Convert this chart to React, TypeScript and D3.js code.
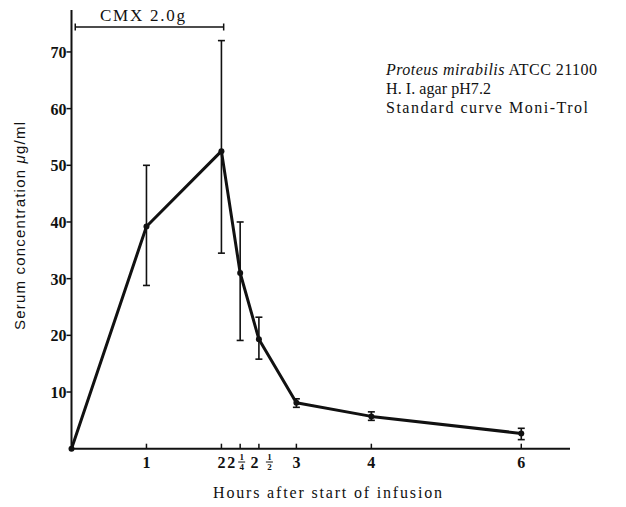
import React from "react";
import * as d3 from "d3";

// Serum concentration after a 2 h infusion of CMX 2.0 g
const hours = [0, 1, 2, 2.25, 2.5, 3, 4, 6];
const meanConc = [0, 39.2, 52.5, 31, 19.3, 8.1, 5.7, 2.7];
const errLow = [null, 28.8, 34.5, 19.1, 15.8, 7.3, 5.0, 1.6];
const errHigh = [null, 50, 72, 40, 23.2, 8.8, 6.5, 3.6];

const yTicks = [10, 20, 30, 40, 50, 60, 70];
const xTicks = [1, 2, 2.25, 2.5, 3, 4, 6];
const xTickLabels = [
  { whole: "1", frac: null, wholeAt: 1, fracAt: null },
  { whole: "2", frac: null, wholeAt: 2, fracAt: null },
  { whole: "2", frac: ["1", "4"], wholeAt: 2.13, fracAt: 2.27 },
  { whole: "2", frac: ["1", "2"], wholeAt: 2.44, fracAt: 2.64 },
  { whole: "3", frac: null, wholeAt: 3, fracAt: null },
  { whole: "4", frac: null, wholeAt: 4, fracAt: null },
  { whole: "6", frac: null, wholeAt: 6, fracAt: null },
];
const infusionSpan = [0.05, 2.03];
const infusionLabel = "CMX 2.0g";

const W = 626;
const H = 507;

export default function App() {
  const x = d3.scaleLinear().domain([0, 6.65]).range([71.5, 570]);
  const y = d3.scaleLinear().domain([0, 77.4]).range([448.7, 10]);

  const pts = hours.map((h, i) => [h, meanConc[i]] as [number, number]);
  const line = d3
    .line<[number, number]>()
    .x((d) => x(d[0]))
    .y((d) => y(d[1]));

  const serif = "'Liberation Serif', 'DejaVu Serif', serif";
  const sans = "'Liberation Sans', 'DejaVu Sans', sans-serif";
  const ink = "#111";

  const cmxY = 27;
  const cx0 = x(infusionSpan[0]);
  const cx1 = x(infusionSpan[1]);

  return (
    <svg
      width={W}
      height={H}
      viewBox={`0 0 ${W} ${H}`}
      style={{ position: "absolute", left: 0, top: 0, background: "#fff" }}
    >
      <rect width={W} height={H} fill="#fff" />

      {/* axes */}
      <line x1={x(0)} x2={x(0)} y1={y(0) + 1} y2={10} stroke={ink} strokeWidth={2} />
      <line x1={x(0) - 1} x2={570} y1={y(0)} y2={y(0)} stroke={ink} strokeWidth={2} />

      {yTicks.map((t) => (
        <g key={"y" + t}>
          <line x1={x(0) - 5} x2={x(0)} y1={y(t)} y2={y(t)} stroke={ink} strokeWidth={1.5} />
          <text
            x={x(0) - 5}
            y={y(t) + 6}
            textAnchor="end"
            fontFamily={serif}
            fontWeight="bold"
            fontSize={16}
            fill={ink}
          >
            {t}
          </text>
        </g>
      ))}

      {xTicks.map((t) => (
        <line
          key={"x" + t}
          x1={x(t)}
          x2={x(t)}
          y1={y(0)}
          y2={y(0) - 5}
          stroke={ink}
          strokeWidth={1.5}
        />
      ))}

      {xTickLabels.map((l, i) => (
        <g key={"xl" + i} fontFamily={serif} fontWeight="bold" fill={ink}>
          <text x={x(l.wholeAt)} y={468} textAnchor="middle" fontSize={16}>
            {l.whole}
          </text>
          {l.frac && l.fracAt !== null && (
            <g>
              <text x={x(l.fracAt)} y={460} textAnchor="middle" fontSize={9}>
                {l.frac[0]}
              </text>
              <line
                x1={x(l.fracAt) - 3.5}
                x2={x(l.fracAt) + 3.5}
                y1={462}
                y2={462}
                stroke={ink}
                strokeWidth={1}
              />
              <text x={x(l.fracAt)} y={470} textAnchor="middle" fontSize={9}>
                {l.frac[1]}
              </text>
            </g>
          )}
        </g>
      ))}

      {/* infusion period */}
      <line x1={cx0} x2={cx1} y1={cmxY} y2={cmxY} stroke={ink} strokeWidth={1.5} />
      <line x1={cx0} x2={cx0} y1={cmxY - 3.5} y2={cmxY + 3.5} stroke={ink} strokeWidth={1.5} />
      <line x1={cx1} x2={cx1} y1={cmxY - 3.5} y2={cmxY + 3.5} stroke={ink} strokeWidth={1.5} />
      <text
        x={100}
        y={21}
        fontFamily={serif}
        fontSize={17}
        textLength={85}
        lengthAdjust="spacing"
        fill={ink}
      >
        {infusionLabel}
      </text>

      {/* error bars */}
      {hours.map((h, i) =>
        errLow[i] === null ? null : (
          <g key={"e" + i} stroke={ink} strokeWidth={1.6}>
            <line x1={x(h)} x2={x(h)} y1={y(errLow[i] as number)} y2={y(errHigh[i] as number)} />
            <line
              x1={x(h) - 3.5}
              x2={x(h) + 3.5}
              y1={y(errLow[i] as number)}
              y2={y(errLow[i] as number)}
            />
            <line
              x1={x(h) - 3.5}
              x2={x(h) + 3.5}
              y1={y(errHigh[i] as number)}
              y2={y(errHigh[i] as number)}
            />
          </g>
        )
      )}

      {/* mean curve */}
      <path
        d={line(pts) || ""}
        fill="none"
        stroke={ink}
        strokeWidth={3}
        strokeLinejoin="round"
      />
      {pts.map((p, i) => (
        <circle key={"p" + i} cx={x(p[0])} cy={y(p[1])} r={3} fill={ink} />
      ))}

      {/* annotation */}
      <g fontFamily={serif} fontSize={16} fill={ink}>
        <text x={386} y={75} textLength={211} lengthAdjust="spacing">
          <tspan fontStyle="italic">Proteus mirabilis</tspan> ATCC 21100
        </text>
        <text x={386} y={94} textLength={105} lengthAdjust="spacing">
          H. I. agar pH7.2
        </text>
        <text x={386} y={113} textLength={202} lengthAdjust="spacing">
          Standard curve Moni-Trol
        </text>
      </g>

      {/* axis titles */}
      <text
        x={213}
        y={498}
        fontFamily={serif}
        fontSize={16}
        textLength={229}
        lengthAdjust="spacing"
        fill={ink}
      >
        Hours after start of infusion
      </text>
      <text
        transform="translate(25,330) rotate(-90)"
        fontFamily={sans}
        fontSize={15}
        textLength={208}
        lengthAdjust="spacing"
        fill={ink}
      >
        Serum concentration <tspan fontStyle="italic">μ</tspan>g/ml
      </text>
    </svg>
  );
}
